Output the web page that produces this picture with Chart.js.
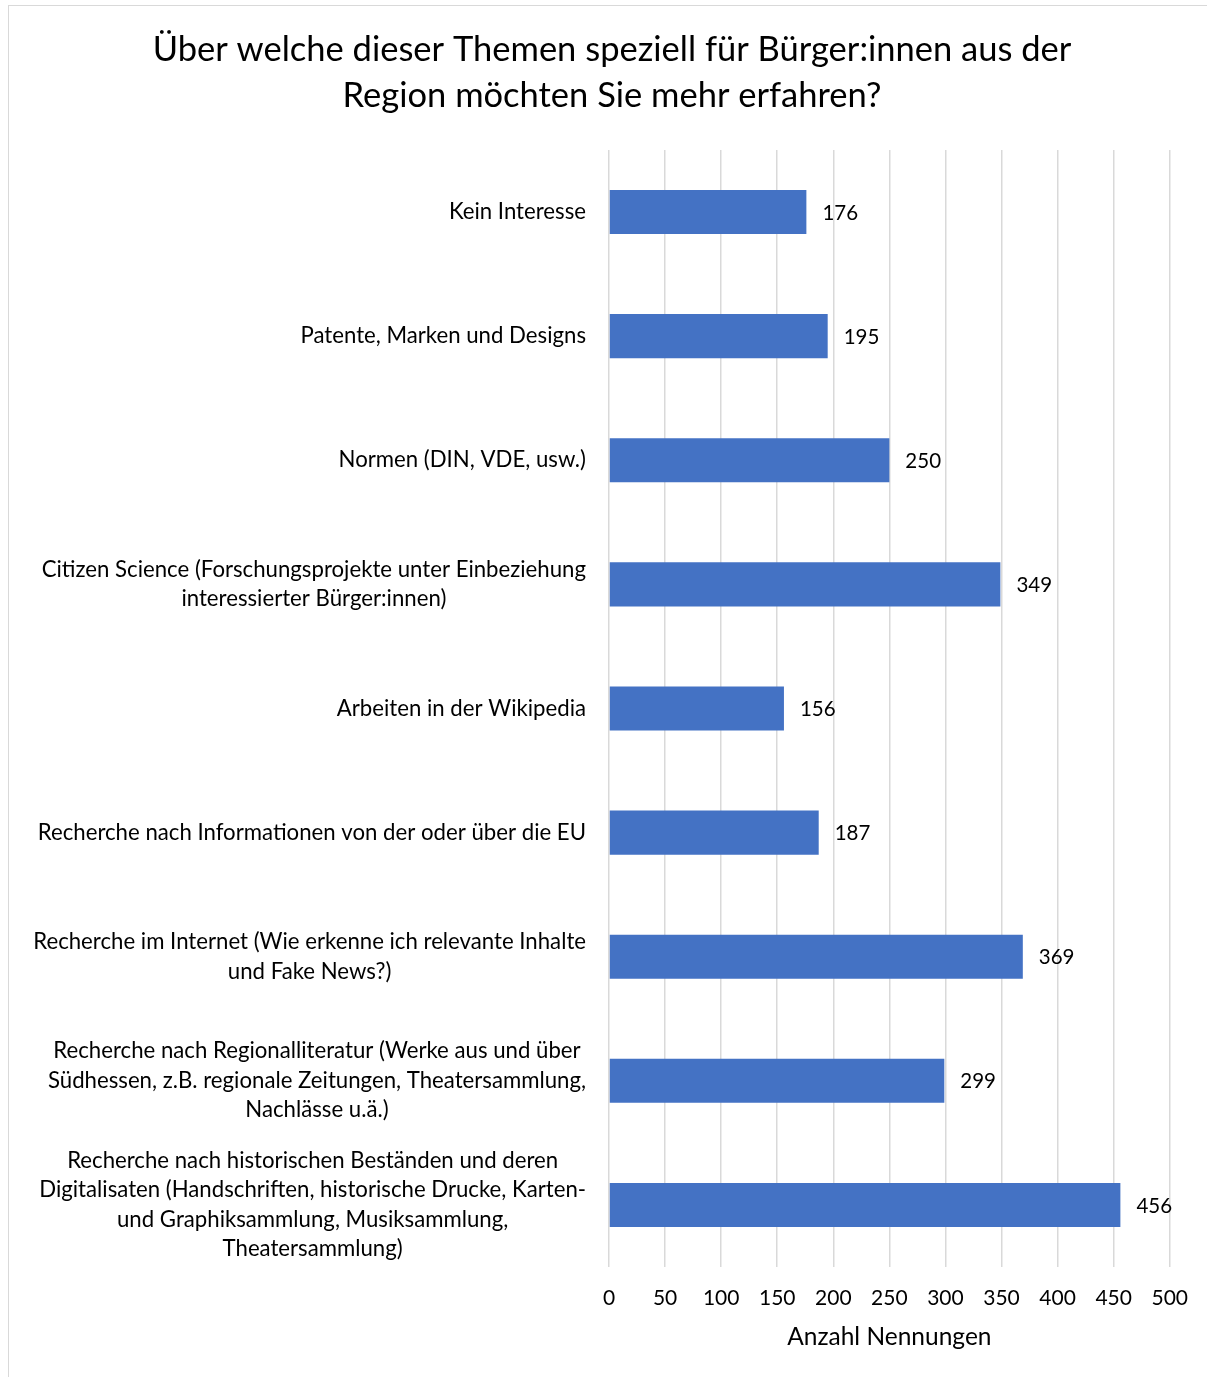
<!DOCTYPE html>
<html>
<head>
<meta charset="utf-8">
<script src="https://cdn.jsdelivr.net/npm/chart.js@4.4.1/dist/chart.umd.min.js"></script>
<style>
html, body { margin: 0; padding: 0; background: #fff; overflow: hidden; }
#wrap { position: relative; width: 1207px; height: 1377px; overflow: hidden; }
#frame { position: absolute; left: 8px; top: 5px; width: 1300px; height: 1500px; border: 1.5px solid #d9d9d9; box-sizing: border-box; }
canvas { position: absolute; left: 0; top: 0; }
</style>
</head>
<body>
<div id="wrap">
  <div id="frame"></div>
  <canvas id="chart" width="1207" height="1377"></canvas>
</div>
<script>
// Chart text
const titleLines = [
    'Über welche dieser Themen speziell für Bürger:innen aus der',
    'Region möchten Sie mehr erfahren?'
];
const axisTitle = 'Anzahl Nennungen';

// Categories, top to bottom (each entry = wrapped label lines)
const categories = [
    ['Kein Interesse'],
    ['Patente, Marken und Designs'],
    ['Normen (DIN, VDE, usw.)'],
    ['Citizen Science (Forschungsprojekte unter Einbeziehung', 'interessierter Bürger:innen)'],
    ['Arbeiten in der Wikipedia'],
    ['Recherche nach Informationen von der oder über die EU'],
    ['Recherche im Internet (Wie erkenne ich relevante Inhalte', 'und Fake News?)'],
    ['Recherche nach Regionalliteratur (Werke aus und über', 'Südhessen, z.B. regionale Zeitungen, Theatersammlung,', 'Nachlässe u.ä.)'],
    ['Recherche nach historischen Beständen und deren', 'Digitalisaten (Handschriften, historische Drucke, Karten-', 'und Graphiksammlung, Musiksammlung,', 'Theatersammlung)']
];

// Number of mentions per category
const counts = [176, 195, 250, 349, 156, 187, 369, 299, 456];

// x axis range
const xMin = 0;
const xMax = 500;
const xStep = 50;

const FONT = 'Lato';
const TEXT = '#000000';

// Draw wrapped category labels (block right-aligned, lines centered) and value labels
const labelPlugin = {
    id: 'labelPlugin',
    afterDatasetsDraw(chart) {
        const ctx = chart.ctx;
        const yScale = chart.scales.y;
        const right = chart.chartArea.left - 23;
        ctx.save();
        ctx.fillStyle = TEXT;
        ctx.textBaseline = 'middle';
        ctx.font = `22.2px ${FONT}`;
        ctx.textAlign = 'center';
        categories.forEach((lines, i) => {
            const maxW = Math.max(...lines.map(l => ctx.measureText(l).width));
            const cx = right - maxW / 2;
            const cy = yScale.getPixelForTick(i);
            const lh = 29.5;
            lines.forEach((l, j) => {
                ctx.fillText(l, cx, cy + (j - (lines.length - 1) / 2) * lh);
            });
        });

        // value labels at the end of each bar
        ctx.font = `20.5px ${FONT}`;
        ctx.textAlign = 'left';
        const meta = chart.getDatasetMeta(0);
        meta.data.forEach((bar, i) => {
            ctx.fillText(String(counts[i]), bar.x + 16, bar.y + 1);
        });
        ctx.restore();
    }
};

const ctx = document.getElementById('chart').getContext('2d');
const chart = new Chart(ctx, {
    type: 'bar',
    data: {
        labels: categories.map(c => c.join(' ')),
        datasets: [{
            label: axisTitle,
            data: counts,
            backgroundColor: '#4472C4',
            borderWidth: 0,
            barPercentage: 0.355,
            categoryPercentage: 1.0
        }]
    },
    options: {
        indexAxis: 'y',
        responsive: false,
        animation: false,
        layout: {
            padding: { left: 34, right: 17, top: 0, bottom: 25.3 }
        },
        plugins: {
            legend: { display: false },
            tooltip: { enabled: false },
            title: {
                display: true,
                text: titleLines,
                color: TEXT,
                font: { family: FONT, size: 34.5, weight: 'normal', lineHeight: 1.333 },
                padding: { top: 27, bottom: 31 }
            }
        },
        scales: {
            x: {
                min: xMin,
                max: xMax,
                border: { display: false },
                grid: {
                    color: '#d9d9d9',
                    lineWidth: 1.5,
                    drawTicks: false
                },
                ticks: {
                    stepSize: xStep,
                    color: TEXT,
                    padding: 19,
                    font: { family: FONT, size: 21, lineHeight: 1.143 }
                },
                title: {
                    display: true,
                    text: axisTitle,
                    color: TEXT,
                    font: { family: FONT, size: 24.5, lineHeight: 1.2 },
                    padding: { top: -6.7, bottom: 0 }
                }
            },
            y: {
                border: { display: false },
                grid: { display: false, drawTicks: false },
                ticks: { display: false },
                afterFit(scale) {
                    scale.width = 609 - 34;
                }
            }
        }
    },
    plugins: [labelPlugin]
});
</script>
</body>
</html>
